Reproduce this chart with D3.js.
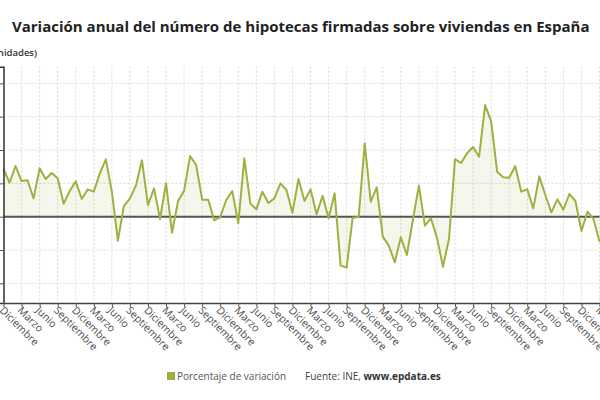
<!DOCTYPE html>
<html>
<head>
<meta charset="utf-8">
<script src="https://cdn.jsdelivr.net/npm/d3@7"></script>
<style>
  body { margin: 0; background: #fff; }
  svg { display: block; font-family: "Open Sans", sans-serif; }
</style>
</head>
<body>
<div class="chart"></div>
<script>
// month names, the series starts in December
var monthNames = ["Diciembre", "Enero", "Febrero", "Marzo", "Abril", "Mayo", "Junio",
				"Julio", "Agosto", "Septiembre", "Octubre", "Noviembre"];

// annual variation (%), one value per month
var values = [14.3, 10.2, 15.2, 10.7, 10.9, 5.5, 14.5, 11.3, 13.1, 11.5,
			3.9, 7.7, 10.6, 5.3, 8.2, 7.5, 13.0, 17.2, 7.5, -7.2,
			3.2, 5.5, 9.3, 16.9, 3.5, 8.5, -0.7, 10.0, -4.8, 4.7,
			7.8, 18.2, 15.5, 5.1, 5.1, -1.1, -0.1, 5.0, 7.7, -2.0,
			17.5, 4.0, 2.2, 7.5, 4.1, 5.5, 10.0, 8.0, 1.2, 11.3,
			4.7, 8.2, 0.7, 6.3, -0.5, 7.0, -14.7, -15.3, -0.3, -0.1,
			22.0, 4.5, 8.8, -6.0, -8.7, -13.7, -6.2, -11.5, -1.0, 9.3,
			-2.7, -0.5, -6.3, -15.0, -6.7, 17.3, 16.1, 19.0, 20.9, 18.0,
			33.5, 28.7, 13.5, 11.8, 11.7, 15.2, 7.5, 8.2, 2.5, 12.1,
			6.5, 1.3, 5.2, 2.1, 6.8, 4.7, -4.3, 1.5, -0.7, -7.5];

var categories = values.map(function(d, i){
	return monthNames[i % 12];
});

var yTicks = [-20, -10, 0, 10, 20, 30, 40];

var green = "#9bb241";

var svg = d3.select(".chart")
	.append("svg")
	.attr("width", 600)
	.attr("height", 400);

var x = d3.scaleLinear()
	.domain([0, values.length - 1])
	.range([3.5, 599.5]);

var y = d3.scaleLinear()
	.domain([-25.9, 45])
	.range([303, 66.7]);

var xTicks = d3.range(0, values.length, 3);

// title
svg.append("text")
	.attr("x", 12)
	.attr("y", 32)
	.attr("font-size", "15px")
	.attr("font-weight", "bold")
	.attr("fill", "#222")
	.text("Variación anual del número de hipotecas firmadas sobre viviendas en España");

svg.append("text")
	.attr("x", 37)
	.attr("y", 56)
	.attr("text-anchor", "end")
	.attr("font-size", "9.5px")
	.attr("font-weight", 600)
	.attr("fill", "#333")
	.text("(Unidades)");

// grid
svg.append("g")
	.selectAll("line")
	.data(yTicks.filter(function(d){ return d != 0; }))
	.enter()
	.append("line")
	.attr("x1", x.range()[0])
	.attr("x2", x.range()[1])
	.attr("y1", function(d){ return y(d); })
	.attr("y2", function(d){ return y(d); })
	.attr("stroke", "#d9d9d9")
	.attr("stroke-dasharray", "2,2");

svg.append("g")
	.selectAll("line")
	.data(xTicks)
	.enter()
	.append("line")
	.attr("x1", function(d){ return x(d); })
	.attr("x2", function(d){ return x(d); })
	.attr("y1", y.range()[1])
	.attr("y2", y.range()[0])
	.attr("stroke", "#d9d9d9")
	.attr("stroke-dasharray", "2,2");

// area and line
var area = d3.area()
	.x(function(d, i){ return x(i); })
	.y0(y(0))
	.y1(function(d){ return y(d); });

var line = d3.line()
	.x(function(d, i){ return x(i); })
	.y(function(d){ return y(d); });

svg.append("path")
	.datum(values)
	.attr("d", area)
	.attr("fill", green)
	.attr("fill-opacity", 0.1);

// zero line
svg.append("line")
	.attr("x1", x.range()[0])
	.attr("x2", x.range()[1])
	.attr("y1", y(0))
	.attr("y2", y(0))
	.attr("stroke", "#555")
	.attr("stroke-width", 2);

svg.append("path")
	.datum(values)
	.attr("d", line)
	.attr("fill", "none")
	.attr("stroke", green)
	.attr("stroke-width", 2)
	.attr("stroke-linejoin", "round");

// y axis (labels fall outside the frame)
var yAxis = svg.append("g")
	.attr("transform", "translate(" + x.range()[0] + ",0)")
	.call(d3.axisLeft(y).tickValues(yTicks).tickSize(4).tickFormat(""));
yAxis.select(".domain").attr("stroke", "#333").attr("stroke-width", 1.5);
yAxis.selectAll(".tick line").attr("stroke", "#555");

// x axis
var xAxis = svg.append("g")
	.attr("transform", "translate(0," + y.range()[0] + ")")
	.call(d3.axisBottom(x)
		.tickValues(xTicks)
		.tickSize(4)
		.tickSizeOuter(0)
		.tickFormat(function(d){ return categories[d]; }));
xAxis.select(".domain").attr("stroke", "#444").attr("stroke-width", 1.5);
xAxis.selectAll(".tick line").attr("stroke", "#555");
xAxis.selectAll(".tick text")
	.attr("font-size", "10.5px")
	.attr("font-family", "Open Sans, sans-serif")
	.attr("fill", "#4d4d4d")
	.attr("text-anchor", "start")
	.attr("dy", null)
	.attr("y", 0)
	.attr("transform", "translate(-5,8) rotate(45)");

// legend and source
svg.append("rect")
	.attr("x", 167)
	.attr("y", 372)
	.attr("width", 8)
	.attr("height", 8)
	.attr("fill", green);

svg.append("text")
	.attr("x", 177)
	.attr("y", 380)
	.attr("font-size", "10px")
	.attr("fill", "#555")
	.text("Porcentaje de variación");

var source = svg.append("text")
	.attr("x", 305)
	.attr("y", 380)
	.attr("font-size", "10px")
	.attr("fill", "#444");
source.append("tspan").text("Fuente: INE, ");
source.append("tspan").attr("font-weight", "bold").attr("fill", "#333").text("www.epdata.es");
</script>
</body>
</html>
